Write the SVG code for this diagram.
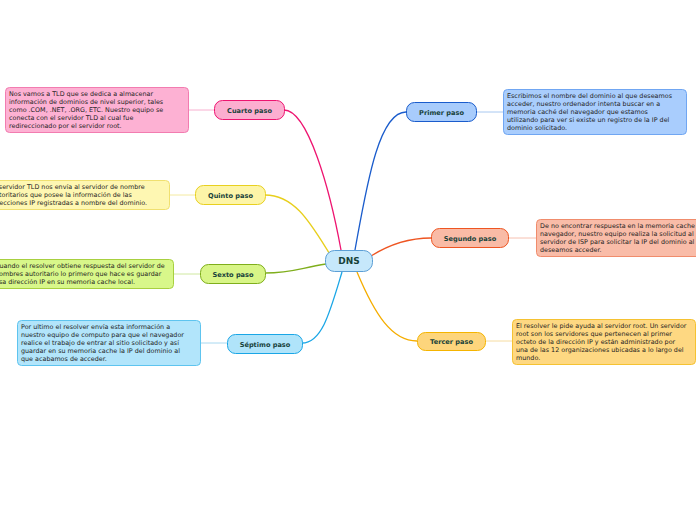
<svg xmlns="http://www.w3.org/2000/svg" width="696" height="520" viewBox="0 0 696 520">
<style>
.lbl{font-family:"DejaVu Sans",Verdana,sans-serif;font-size:6.6px;font-weight:bold;fill:#17423a;text-anchor:middle}
.txt{font-family:"DejaVu Sans",Verdana,sans-serif;font-size:6.4px;fill:#1e1e1e}
.c{fill:none;stroke-width:1.3}
.t{fill:none;stroke-width:1}
</style>
<rect width="696" height="520" fill="#ffffff"/>
<g id="connectors">
<path class="c" d="M355,250 C366,190 378,112 406,112" stroke="#1a5ccc"/>
<path class="c" d="M341,250 C330,190 308,110 284,110" stroke="#ee1470"/>
<path class="c" d="M331,256 C312,226 296,195 265,195" stroke="#e8cf1c"/>
<path class="c" d="M326,264 C300,268 292,273 265,273" stroke="#7fae1c"/>
<path class="c" d="M342,272 C330,312 322,343 302,343" stroke="#1aa6e6"/>
<path class="c" d="M371,256 C390,244 410,238 431,238" stroke="#ee5522"/>
<path class="c" d="M357,272 C375,315 392,341 417,341" stroke="#f5ad00"/>
<path class="t" d="M476,112 H503" stroke="#a8c8f0"/>
<path class="t" d="M188,110 H214" stroke="#f8b0d0"/>
<path class="t" d="M169,195 H195" stroke="#f4eaa0"/>
<path class="t" d="M173,274 H200" stroke="#cfe8a0"/>
<path class="t" d="M200,343 H227" stroke="#a8d8f0"/>
<path class="t" d="M508,238 H536" stroke="#f6c0b0"/>
<path class="t" d="M485,341 H512" stroke="#f6dca0"/>
</g>
<g id="dns">
<rect x="325.5" y="250.5" width="47" height="21" rx="9" fill="#c6e8fb" stroke="#5c9fd6" stroke-width="1"/>
<text class="lbl" x="349" y="264.2" style="font-size:9px">DNS</text>
</g>
<g id="primer">
<rect x="406.5" y="102.5" width="70" height="19" rx="8" fill="#a8ccfc" stroke="#1a5ccc" stroke-width="1"/>
<text class="lbl" x="441.5" y="114.5">Primer paso</text>
</g>
<g id="primer-nota">
<rect x="503.5" y="89.5" width="183" height="45" rx="4" fill="#a9cdfd" stroke="#70a6f2" stroke-width="1"/>
<text class="txt" x="507" y="98"><tspan x="507">Escribimos el nombre del dominio al que deseamos</tspan><tspan x="507" dy="8.1">acceder, nuestro ordenador intenta buscar en a</tspan><tspan x="507" dy="8.1">memoria caché del navegador que estamos</tspan><tspan x="507" dy="8.1">utilizando para ver si existe un registro de la IP del</tspan><tspan x="507" dy="8.1">dominio solicitado.</tspan></text>
</g>
<g id="segundo">
<rect x="431.5" y="228.5" width="77" height="19" rx="8" fill="#f9bba6" stroke="#ee5522" stroke-width="1"/>
<text class="lbl" x="470" y="240.5">Segundo paso</text>
</g>
<g id="segundo-nota">
<rect x="536.5" y="219.5" width="183" height="37" rx="4" fill="#f9bca8" stroke="#f08c6c" stroke-width="1"/>
<text class="txt" x="540" y="228"><tspan x="540">De no encontrar respuesta en la memoria cache del</tspan><tspan x="540" dy="8.1">navegador, nuestro equipo realiza la solicitud al</tspan><tspan x="540" dy="8.1">servidor de ISP para solicitar la IP del dominio al que</tspan><tspan x="540" dy="8.1">deseamos acceder.</tspan></text>
</g>
<g id="tercer">
<rect x="417.5" y="332.5" width="68" height="18" rx="8" fill="#fdd57c" stroke="#f5b400" stroke-width="1"/>
<text class="lbl" x="451.5" y="344">Tercer paso</text>
</g>
<g id="tercer-nota">
<rect x="512.5" y="319.5" width="183" height="45" rx="4" fill="#fed882" stroke="#f5c232" stroke-width="1"/>
<text class="txt" x="516" y="328"><tspan x="516">El resolver le pide ayuda al servidor root. Un servidor</tspan><tspan x="516" dy="8.1">root son los servidores que pertenecen al primer</tspan><tspan x="516" dy="8.1">octeto de la dirección IP y están administrado por</tspan><tspan x="516" dy="8.1">una de las 12 organizaciones ubicadas a lo largo del</tspan><tspan x="516" dy="8.1">mundo.</tspan></text>
</g>
<g id="cuarto">
<rect x="214.5" y="100.5" width="70" height="19" rx="8" fill="#fcaed0" stroke="#ee1470" stroke-width="1"/>
<text class="lbl" x="249.5" y="112.5">Cuarto paso</text>
</g>
<g id="cuarto-nota">
<rect x="5.5" y="87.5" width="183" height="45" rx="4" fill="#fdb1d3" stroke="#f27cb0" stroke-width="1"/>
<text class="txt" x="9" y="96"><tspan x="9">Nos vamos a TLD que se dedica a almacenar</tspan><tspan x="9" dy="8.1">información de dominios de nivel superior, tales</tspan><tspan x="9" dy="8.1">como .COM, .NET, .ORG, ETC.  Nuestro equipo se</tspan><tspan x="9" dy="8.1">conecta con el servidor TLD al cual fue</tspan><tspan x="9" dy="8.1">redireccionado por el servidor root.</tspan></text>
</g>
<g id="quinto">
<rect x="195.5" y="185.5" width="70" height="19" rx="8" fill="#fdf5a8" stroke="#e8d020" stroke-width="1"/>
<text class="lbl" x="230.5" y="197.5">Quinto paso</text>
</g>
<g id="quinto-nota">
<rect x="-13.5" y="180.5" width="183" height="29" rx="4" fill="#fef7b2" stroke="#f0e070" stroke-width="1"/>
<text class="txt" x="-9" y="189"><tspan x="-9">El servidor TLD nos envía al servidor de nombre</tspan><tspan x="-9" dy="8.1">autoritarios que posee la información de las</tspan><tspan x="-9" dy="8.1">direcciones IP registradas a nombre del dominio.</tspan></text>
</g>
<g id="sexto">
<rect x="200.5" y="264.5" width="65" height="19" rx="8" fill="#d8f587" stroke="#7fae1c" stroke-width="1"/>
<text class="lbl" x="233" y="276.5">Sexto paso</text>
</g>
<g id="sexto-nota">
<rect x="-9.5" y="259.5" width="183" height="29" rx="4" fill="#d8f78a" stroke="#a8d040" stroke-width="1"/>
<text class="txt" x="-5" y="268"><tspan x="-5">Cuando el resolver obtiene respuesta del servidor de</tspan><tspan x="-5" dy="8.1">nombres autoritario lo primero que hace es guardar</tspan><tspan x="-5" dy="8.1">esa dirección IP en su memoria cache local.</tspan></text>
</g>
<g id="septimo">
<rect x="227.5" y="334.5" width="75" height="19" rx="8" fill="#b0e4fa" stroke="#1aa6e6" stroke-width="1"/>
<text class="lbl" x="265" y="346.5">Séptimo paso</text>
</g>
<g id="septimo-nota">
<rect x="17.5" y="320.5" width="183" height="45" rx="4" fill="#b2e5fb" stroke="#5ec4ef" stroke-width="1"/>
<text class="txt" x="21" y="329"><tspan x="21">Por ultimo el resolver envía esta información a</tspan><tspan x="21" dy="8.1">nuestro equipo de computo para que el navegador</tspan><tspan x="21" dy="8.1">realice el trabajo de entrar al sitio solicitado y así</tspan><tspan x="21" dy="8.1">guardar en su memoria cache la IP del dominio al</tspan><tspan x="21" dy="8.1">que acabamos de acceder.</tspan></text>
</g>
</svg>
